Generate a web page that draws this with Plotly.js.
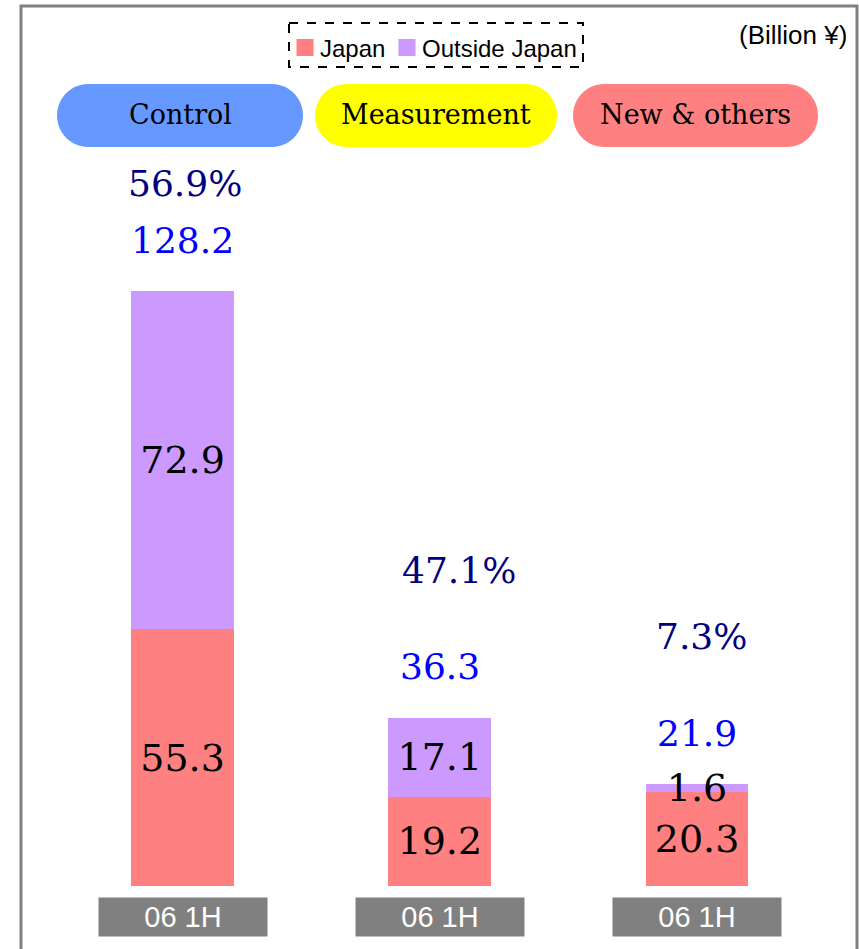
<!DOCTYPE html>
<html>
<head>
<meta charset="utf-8">
<script src="https://cdn.plot.ly/plotly-3.0.1.min.js"></script>
<style>html,body{margin:0;padding:0;background:#fff;}#chart{width:859px;height:949px;}</style>
</head>
<body>
<div id="chart"></div>
<script>
// ---- data ----
const categories = ['Control', 'Measurement', 'New & others'];
const japan = [55.3, 19.2, 20.3];
const outsideJapan = [72.9, 17.1, 1.6];
const totals = [128.2, 36.3, 21.9];
const overseasShare = ['56.9%', '47.1%', '7.3%'];
const periodLabels = ['06 1H', '06 1H', '06 1H'];
const seriesNames = ['Japan', 'Outside Japan'];
const unitLabel = '(Billion ¥)';

// ---- styling / geometry ----
const W = 859, H = 949;
const px = v => v / W;
const py = v => 1 - v / H;
const serif = 'DejaVu Serif, serif';
const sans = 'Liberation Sans, Arial, sans-serif';
const headerColors = ['#6699FF', '#FFFF00', '#FF8080'];
const headerBoxes = [[57, 303], [315, 557], [573, 818]];
const pctShiftY = [108, 147, 148];
const pctShiftX = [2, 19, 4];

function pill(x0, x1, y0, y1, r) {
  const k = 0.5523;
  const ry = (y1 - y0) / 2;
  const P = (x, y) => px(x).toFixed(5) + ',' + py(y).toFixed(5);
  return 'M' + P(x0 + r, y0) +
    ' L' + P(x1 - r, y0) +
    ' C' + P(x1 - r + r * k, y0) + ' ' + P(x1, y0 + ry - ry * k) + ' ' + P(x1, y0 + ry) +
    ' C' + P(x1, y0 + ry + ry * k) + ' ' + P(x1 - r + r * k, y1) + ' ' + P(x1 - r, y1) +
    ' L' + P(x0 + r, y1) +
    ' C' + P(x0 + r - r * k, y1) + ' ' + P(x0, y0 + ry + ry * k) + ' ' + P(x0, y0 + ry) +
    ' C' + P(x0, y0 + ry - ry * k) + ' ' + P(x0 + r - r * k, y0) + ' ' + P(x0 + r, y0) + ' Z';
}

const barText = {family: serif, size: 38, color: '#000000'};
const traces = [
  {
    type: 'bar', name: seriesNames[0], x: categories, y: japan, legend: 'legend',
    text: japan.map(v => v.toFixed(1)), textposition: 'inside', insidetextanchor: 'middle',
    textangle: 0, constraintext: 'none', insidetextfont: barText,
    marker: {color: '#FF8080', line: {width: 0}}, width: 0.4, hoverinfo: 'skip'
  },
  {
    type: 'bar', name: seriesNames[1], x: categories, y: outsideJapan, legend: 'legend2',
    text: outsideJapan.map(v => v.toFixed(1)), textposition: 'inside', insidetextanchor: 'middle',
    textangle: 0, constraintext: 'none', insidetextfont: barText,
    marker: {color: '#CC99FF', line: {width: 0}}, width: 0.4, hoverinfo: 'skip'
  }
];

const annotations = [];
categories.forEach((c, i) => {
  annotations.push({
    x: c, y: totals[i], xref: 'x', yref: 'y', text: totals[i].toFixed(1), showarrow: false,
    xanchor: 'center', yanchor: 'middle', yshift: 51, font: {family: serif, size: 36, color: '#0000FF'}
  });
  annotations.push({
    x: c, y: totals[i], xref: 'x', yref: 'y', text: overseasShare[i], showarrow: false,
    xanchor: 'center', yanchor: 'middle', yshift: pctShiftY[i], xshift: pctShiftX[i],
    font: {family: serif, size: 36, color: '#000080'}
  });
  annotations.push({
    x: c, xref: 'x', y: py(917), yref: 'paper', text: periodLabels[i], showarrow: false,
    width: 166, height: 36, bgcolor: '#808080', borderpad: 1, xanchor: 'center', yanchor: 'middle',
    font: {family: sans, size: 29, color: '#FFFFFF'}
  });
  annotations.push({
    x: px((headerBoxes[i][0] + headerBoxes[i][1]) / 2), xref: 'paper', y: py(115), yref: 'paper',
    text: c, showarrow: false, xanchor: 'center', yanchor: 'middle',
    font: {family: serif, size: 27, color: '#000000'}
  });
});
annotations.push({
  x: px(849), y: py(35), xref: 'paper', yref: 'paper', xanchor: 'right', yanchor: 'middle',
  text: unitLabel, showarrow: false, font: {family: sans, size: 26, color: '#000'}
});

const shapes = [
  {type: 'rect', xref: 'paper', yref: 'paper', x0: px(21), x1: px(857), y0: py(6), y1: -0.05,
   line: {color: '#808080', width: 3}, fillcolor: 'rgba(0,0,0,0)', layer: 'below'},
  {type: 'rect', xref: 'paper', yref: 'paper', x0: px(289), x1: px(583), y0: py(23), y1: py(67),
   line: {color: '#000000', width: 2, dash: 'dash'}, fillcolor: 'rgba(0,0,0,0)'}
];
headerBoxes.forEach((b, i) => {
  shapes.push({type: 'path', xref: 'paper', yref: 'paper', path: pill(b[0], b[1], 84, 147, 31),
    fillcolor: headerColors[i], line: {width: 0}, layer: 'below'});
});

const legendBase = {
  orientation: 'h', xanchor: 'left', y: py(48), yanchor: 'middle',
  traceorder: 'normal', bgcolor: 'rgba(0,0,0,0)', borderwidth: 0,
  font: {family: sans, size: 24, color: '#000'},
  itemwidth: 30, itemclick: false, itemdoubleclick: false
};

const layout = {
  width: W, height: H,
  margin: {l: 0, r: 0, t: 0, b: 0, pad: 0},
  paper_bgcolor: '#FFFFFF', plot_bgcolor: '#FFFFFF',
  barmode: 'stack',
  showlegend: true,
  legend: Object.assign({}, legendBase, {x: px(280)}),
  legend2: Object.assign({}, legendBase, {x: px(382)}),
  xaxis: {type: 'category', categoryorder: 'array', categoryarray: categories,
    range: [-182.5 / 257.25, (W - 182.5) / 257.25], visible: false, fixedrange: true},
  yaxis: {domain: [(H - 886) / H, 1], range: [0, 886 / 4.641], visible: false, fixedrange: true},
  annotations: annotations,
  shapes: shapes
};

Plotly.newPlot('chart', traces, layout, {displayModeBar: false, staticPlot: true}).then(gd => {
  // enlarge legend swatches to match the reference's bigger squares sitting close to the text
  gd.querySelectorAll('.legendpoints path').forEach(p => {
    p.setAttribute('d', 'M13.5,8.5H-3.5V-8.5H13.5Z');
  });
});
</script>
</body>
</html>
